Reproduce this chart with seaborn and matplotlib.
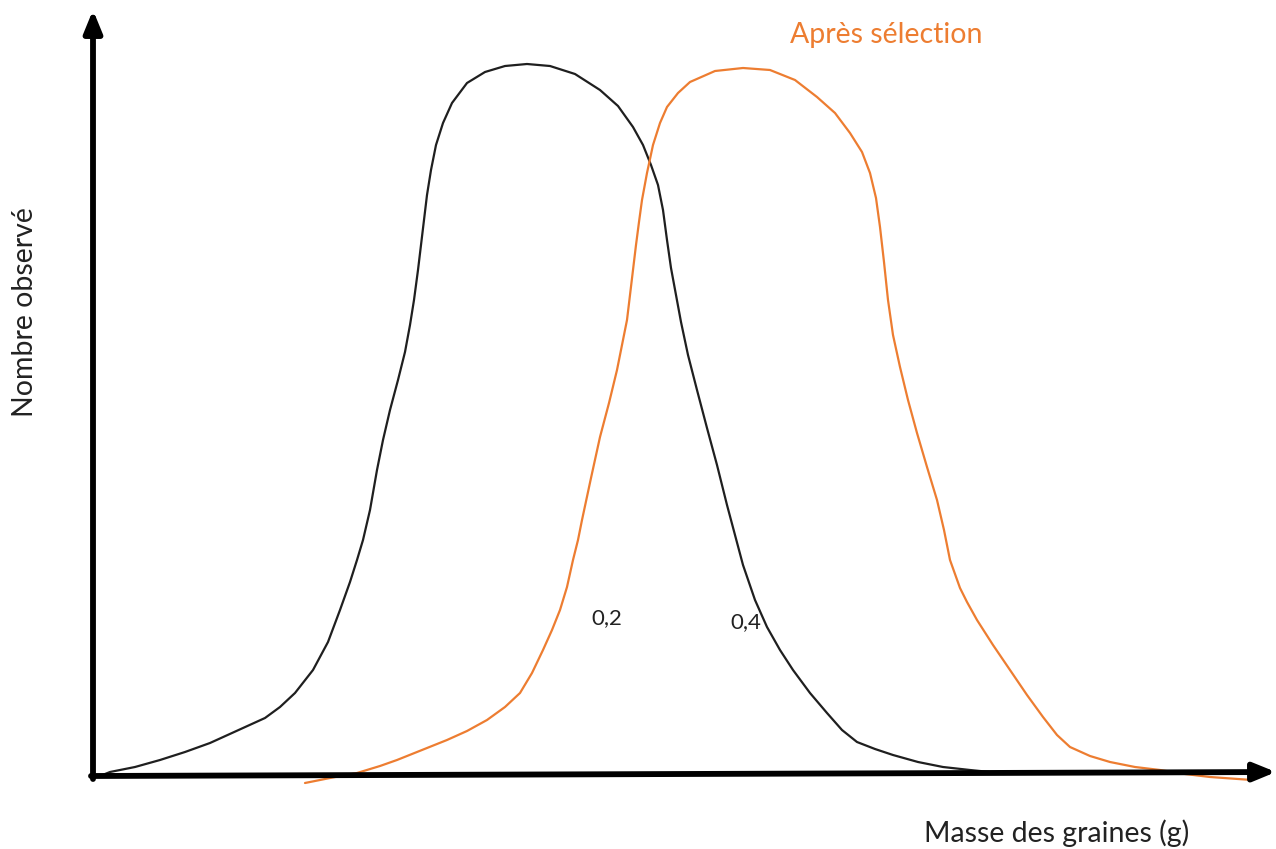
import matplotlib
matplotlib.use("Agg")
import matplotlib.pyplot as plt
import pandas as pd
import seaborn as sns

avant_masse = [7, 17, 42, 67, 92, 117, 150, 172, 187, 202, 220, 235, 247, 257,
               264, 270, 277, 284, 290, 297, 305, 312, 317, 321, 325, 328, 331,
               334, 338, 343, 350, 359, 374, 392, 412, 434, 457, 482, 507, 525,
               540, 550, 558, 565, 570, 574, 578, 583, 588, 595, 604, 614, 624,
               634, 642, 650, 662, 674, 687, 700, 717, 734, 749, 764, 782, 800,
               825, 850, 877, 907]
avant_nombre = [0, 4, 9, 16, 24, 33, 48, 58, 69, 83, 106, 134, 166, 194, 216,
                236, 266, 306, 336, 366, 396, 424, 451, 476, 506, 531, 556, 581,
                606, 631, 653, 673, 693, 704, 710, 712, 710, 702, 686, 670, 649,
                631, 611, 591, 566, 536, 508, 481, 454, 421, 386, 348, 311, 271,
                241, 211, 176, 149, 126, 106, 83, 63, 46, 34, 27, 21, 14, 9, 6, 3]

apres_masse = [212, 237, 264, 287, 304, 329, 354, 374, 394, 412, 427, 439, 450,
               459, 467, 474, 480, 485, 489, 498, 507, 516, 524, 529, 534, 537,
               540, 543, 546, 549, 554, 560, 567, 574, 585, 597, 622, 650, 677,
               702, 724, 742, 757, 769, 777, 783, 787, 791, 795, 800, 807, 815,
               824, 834, 844, 851, 857, 867, 874, 884, 900, 917, 934, 950, 964,
               977, 997, 1017, 1042, 1067, 1092, 1117, 1159]
apres_nombre = [-7, -2, 3, 10, 16, 26, 36, 45, 56, 69, 83, 103, 126, 146, 166,
                189, 216, 236, 256, 298, 339, 373, 406, 431, 456, 481, 506, 531,
                554, 576, 603, 631, 653, 669, 683, 694, 705, 708, 706, 696, 679,
                663, 643, 624, 603, 578, 549, 514, 476, 441, 409, 376, 343, 309,
                276, 246, 216, 188, 174, 156, 131, 106, 81, 59, 41, 29, 20, 14,
                9, 6, 2, -1, -4]

SIZE_W, SIZE_H = 1276, 849
ORIGIN_X, ORIGIN_Y = 93, 776  # position en pixels de l'origine des axes
BLACK = "#1f1f1f"
ORANGE = "#ED7D31"

sns.set_theme(style="white")
plt.rcParams['font.family'] = ['Lato', 'DejaVu Sans']

fig = plt.figure(figsize=(SIZE_W / 100, SIZE_H / 100), dpi=100)
ax = fig.add_axes([ORIGIN_X / SIZE_W, (SIZE_H - ORIGIN_Y) / SIZE_H,
                   (SIZE_W - ORIGIN_X) / SIZE_W, ORIGIN_Y / SIZE_H])
ax.set_xlim(0, SIZE_W - ORIGIN_X)
ax.set_ylim(0, ORIGIN_Y)
ax.set_axis_off()

df_avant = pd.DataFrame({"masse": avant_masse, "nombre": avant_nombre})
df_apres = pd.DataFrame({"masse": apres_masse, "nombre": apres_nombre})

sns.lineplot(data=df_avant, x="masse", y="nombre", sort=False, estimator=None,
             color=BLACK, lw=1.6, ax=ax, clip_on=False)
sns.lineplot(data=df_apres, x="masse", y="nombre", sort=False, estimator=None,
             color=ORANGE, lw=1.6, ax=ax, clip_on=False)

# Axes dessinés à la main avec des flèches
arrow = dict(arrowstyle="-|>,head_length=1.1,head_width=0.45", lw=4.2,
             color="black", shrinkA=0, shrinkB=0)
ax.annotate("", xy=(1183, 4), xytext=(-2, 0), xycoords="data",
            arrowprops=arrow, annotation_clip=False)
ax.annotate("", xy=(0, 766), xytext=(0, -3), xycoords="data",
            arrowprops=arrow, annotation_clip=False)

# Textes
fig.text(790 / SIZE_W, 1 - 35 / SIZE_H, "Après sélection", color=ORANGE,
         fontsize=20.5, ha="left", va="center")
fig.text(25 / SIZE_W, 1 - 312 / SIZE_H, "Nombre observé", color="#222222",
         fontsize=20.5, rotation=90, ha="center", va="center")
fig.text(1057 / SIZE_W, 1 - 833 / SIZE_H, "Masse des graines (g)",
         color="#222222", fontsize=20.5, ha="center", va="center")
ax.text(514, 158, "0,2", color="#222222", fontsize=16, ha="center", va="center")
ax.text(653, 154, "0,4", color="#222222", fontsize=16, ha="center", va="center")

fig.savefig("out.png", dpi=100, facecolor="white")
